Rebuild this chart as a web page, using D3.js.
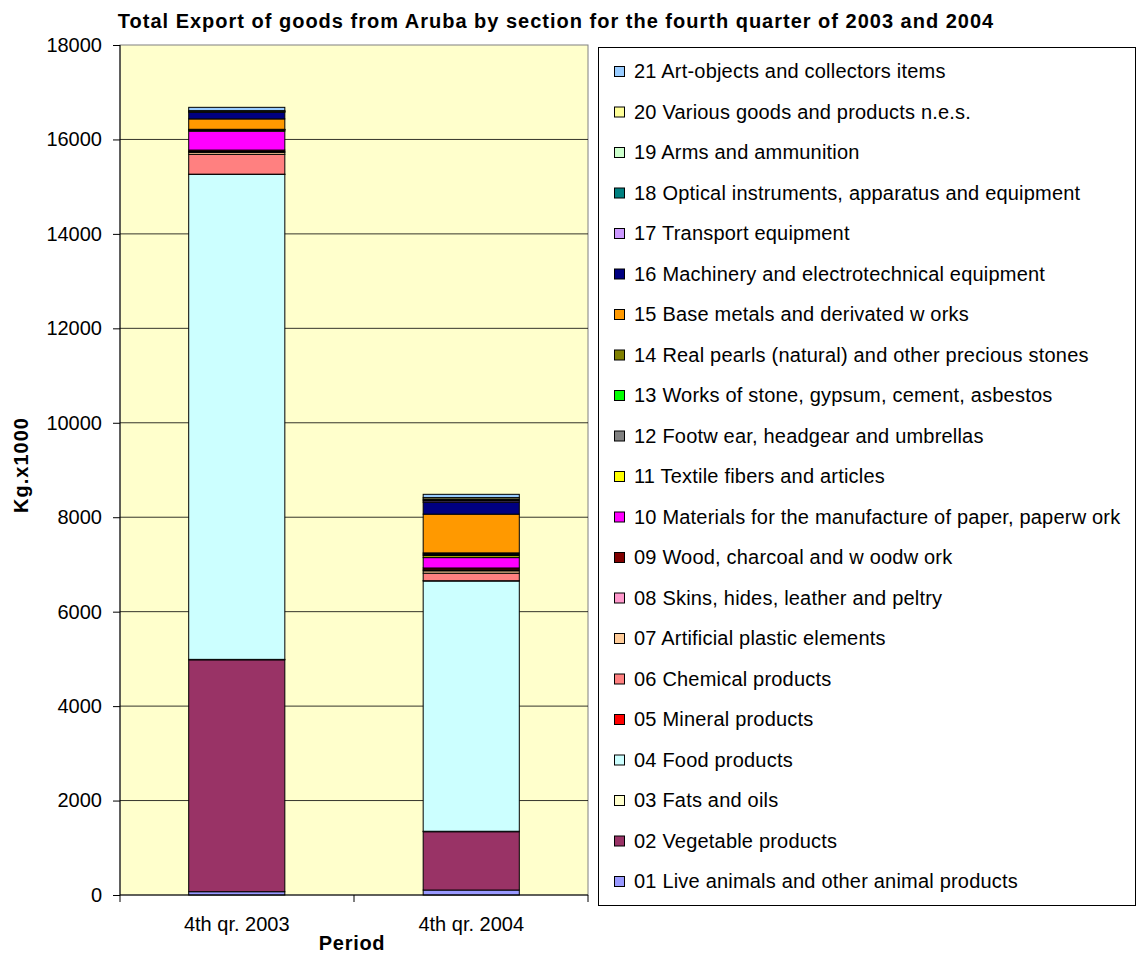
<!DOCTYPE html>
<html>
<head>
<meta charset="utf-8">
<script src="https://cdn.jsdelivr.net/npm/d3@7"></script>
<style>
  body { margin: 0; background: #fff; }
  text { font-family: "Liberation Sans", Arial, sans-serif; }
</style>
</head>
<body>
<svg id="chart" width="1137" height="954"></svg>
<script>
const periods = ['4th qr. 2003', '4th qr. 2004']

const sections = [
    '01 Live animals and other animal products',
    '02 Vegetable products',
    '03 Fats and oils',
    '04 Food products',
    '05 Mineral products',
    '06 Chemical products',
    '07 Artificial plastic elements',
    '08 Skins, hides, leather and peltry',
    '09 Wood, charcoal and w oodw ork',
    '10 Materials for the manufacture of paper, paperw ork',
    '11 Textile fibers and articles',
    '12 Footw ear, headgear and umbrellas',
    '13 Works of stone, gypsum, cement, asbestos',
    '14 Real pearls (natural) and other precious stones',
    '15 Base metals and derivated w orks',
    '16 Machinery and electrotechnical equipment',
    '17 Transport equipment',
    '18 Optical instruments, apparatus and equipment',
    '19 Arms and ammunition',
    '20 Various goods and products n.e.s.',
    '21 Art-objects and collectors items'
]

const colors = ['#9999FF', '#993366', '#FFFFCC', '#CCFFFF', '#FF0000', '#FF8080', '#FFCC99',
    '#FF99CC', '#800000', '#FF00FF', '#FFFF00', '#808080', '#00FF00', '#808000',
    '#FF9900', '#000080', '#CC99FF', '#008080', '#CCFFCC', '#FFFF99', '#99CCFF']

const values2003 = [70, 4910, 10, 10270, 5, 420, 40, 20, 30, 400, 20, 10, 5, 5, 220, 140, 10, 10, 5, 10, 70]
const values2004 = [105, 1235, 10, 5300, 5, 160, 50, 20, 40, 220, 40, 20, 20, 20, 820, 250, 30, 20, 20, 30, 70]

const yTicks = [0, 2000, 4000, 6000, 8000, 10000, 12000, 14000, 16000, 18000]

const margin = { top: 45, bottom: 59, left: 120, right: 549 }
const width = 1137, height = 954

const svg = d3.select('#chart')

// build rows for the stack
const rows = periods.map((p, i) => {
    const r = { period: p }
    const vals = i === 0 ? values2003 : values2004
    sections.forEach((s, j) => { r[s] = vals[j] })
    return r
})

const x = d3.scaleBand()
    .domain(periods)
    .range([margin.left, width - margin.right])
    .paddingInner(0.59)
    .paddingOuter(0.293)

const y = d3.scaleLinear()
    .domain([0, 18000])
    .range([height - margin.bottom, margin.top])

const stack = d3.stack().keys(sections)(rows)

// plot background
svg.append('rect')
    .attr('x', margin.left)
    .attr('y', margin.top)
    .attr('width', width - margin.right - margin.left)
    .attr('height', height - margin.bottom - margin.top)
    .attr('fill', '#FFFFCC')
    .attr('stroke', '#808080')

// gridlines
svg.append('g')
    .selectAll('line')
    .data(yTicks.slice(1, -1))
    .join('line')
    .attr('x1', margin.left)
    .attr('x2', width - margin.right)
    .attr('y1', d => y(d))
    .attr('y2', d => y(d))
    .attr('stroke', '#000')
    .attr('stroke-width', 0.8)

// bars
svg.append('g')
    .selectAll('g')
    .data(stack)
    .join('g')
    .attr('fill', (d, i) => colors[i])
    .selectAll('rect')
    .data(d => d)
    .join('rect')
    .attr('x', d => x(d.data.period))
    .attr('width', x.bandwidth())
    .attr('y', d => y(d[1]))
    .attr('height', d => y(d[0]) - y(d[1]))
    .attr('stroke', '#000')
    .attr('stroke-width', 1)

// y axis
svg.append('g')
    .attr('transform', `translate(${margin.left},0)`)
    .call(d3.axisLeft(y).tickValues(yTicks).tickSize(7).tickPadding(11).tickFormat(d3.format('d')))
    .call(g => g.select('.domain').attr('stroke', '#000').attr('d', `M0,${y(18000)}V${y(0)}`))
    .call(g => g.selectAll('text').attr('font-size', 20).attr('fill', '#000')
        .style('font-family', '"Liberation Sans", Arial, sans-serif'))

// x axis
const xAxisY = y(0)
const xg = svg.append('g')
xg.append('line')
    .attr('x1', margin.left).attr('x2', width - margin.right)
    .attr('y1', xAxisY).attr('y2', xAxisY)
    .attr('stroke', '#000')
const bounds = [margin.left, (margin.left + width - margin.right) / 2, width - margin.right]
xg.selectAll('.tk')
    .data(bounds)
    .join('line')
    .attr('x1', d => d).attr('x2', d => d)
    .attr('y1', xAxisY).attr('y2', xAxisY + 7)
    .attr('stroke', '#000')
xg.selectAll('text')
    .data(periods)
    .join('text')
    .attr('x', d => x(d) + x.bandwidth() / 2)
    .attr('y', 931)
    .attr('text-anchor', 'middle')
    .attr('font-size', 20)
    .text(d => d)

// axis titles
svg.append('text')
    .attr('x', 352)
    .attr('y', 950)
    .attr('text-anchor', 'middle')
    .attr('font-size', 20)
    .attr('font-weight', 'bold')
    .attr('letter-spacing', 0.7)
    .text('Period')

svg.append('text')
    .attr('transform', 'translate(28,465) rotate(-90)')
    .attr('text-anchor', 'middle')
    .attr('font-size', 20)
    .attr('font-weight', 'bold')
    .attr('letter-spacing', 1)
    .text('Kg.x1000')

svg.append('text')
    .attr('x', 556)
    .attr('y', 28)
    .attr('text-anchor', 'middle')
    .attr('font-size', 20)
    .attr('font-weight', 'bold')
    .attr('letter-spacing', 1)
    .text('Total Export of goods from Aruba by section for the fourth quarter of 2003 and 2004')

// legend
const legend = svg.append('g')
legend.append('rect')
    .attr('x', 598.5)
    .attr('y', 47.5)
    .attr('width', 537)
    .attr('height', 858)
    .attr('fill', '#fff')
    .attr('stroke', '#000')

const ly = d3.scalePoint()
    .domain(sections.slice().reverse())
    .range([71, 881])

const item = legend.selectAll('g')
    .data(sections)
    .join('g')
    .attr('transform', d => `translate(614,${ly(d)})`)
item.append('rect')
    .attr('x', 0.5).attr('y', -4.5)
    .attr('width', 10).attr('height', 10)
    .attr('fill', (d, i) => colors[i])
    .attr('stroke', '#000')
item.append('text')
    .attr('x', 20)
    .attr('y', 7)
    .attr('font-size', 20)
    .attr('letter-spacing', 0.2)
    .text(d => d)
</script>
</body>
</html>
